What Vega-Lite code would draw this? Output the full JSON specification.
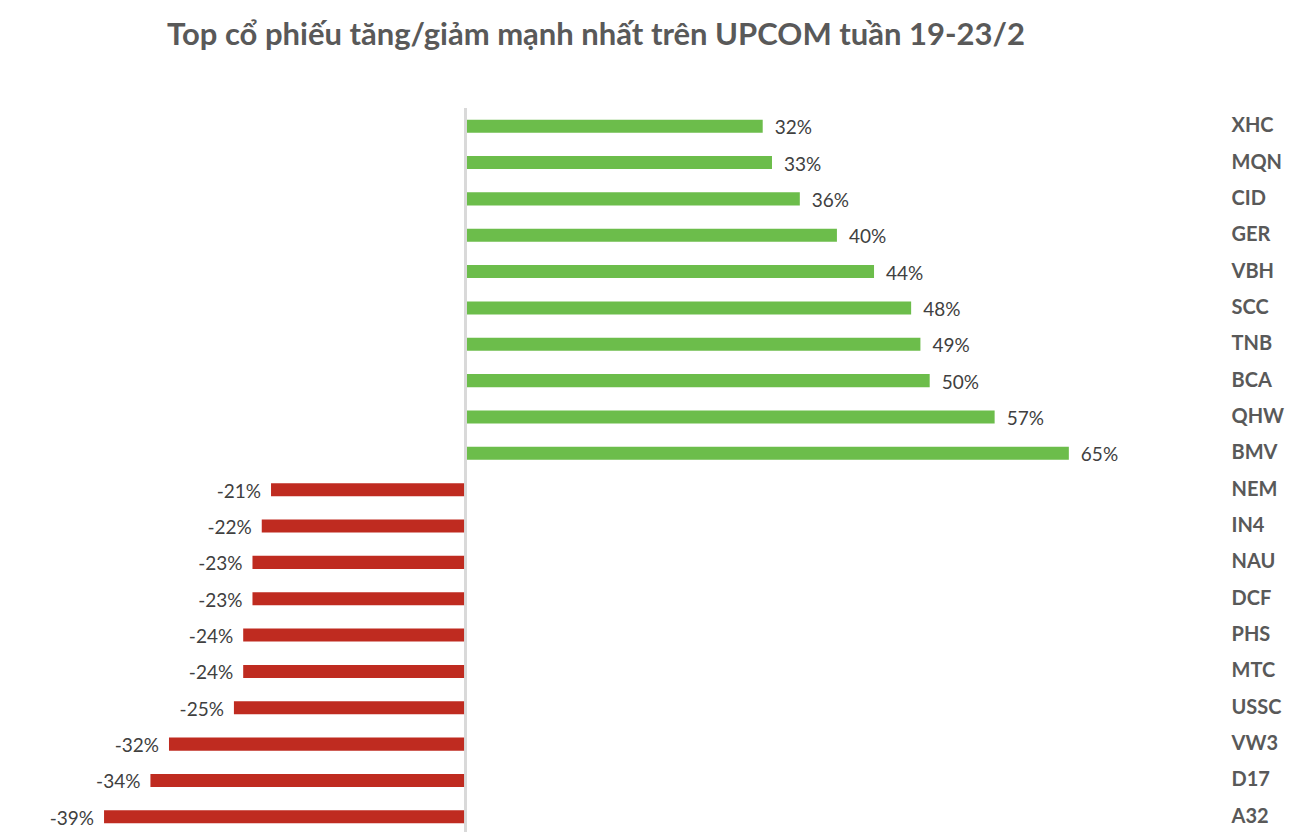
{
  "$schema": "https://vega.github.io/schema/vega-lite/v6.json",
  "autosize": {"type": "none"},
  "padding": {"left": 2, "top": 108, "right": 82, "bottom": 0},
  "width": 1206,
  "height": 727,
  "background": "white",
  "title": {
    "text": "Top cổ phiếu tăng/giảm mạnh nhất trên UPCOM tuần 19-23/2",
    "font": "Lato",
    "fontSize": 31,
    "fontWeight": "bold",
    "color": "#595959",
    "anchor": "middle",
    "dx": -9,
    "offset": 31,
    "baseline": "alphabetic"
  },
  "data": {
    "values": [
      {"ticker": "XHC", "value": 0.32},
      {"ticker": "MQN", "value": 0.33},
      {"ticker": "CID", "value": 0.36},
      {"ticker": "GER", "value": 0.40},
      {"ticker": "VBH", "value": 0.44},
      {"ticker": "SCC", "value": 0.48},
      {"ticker": "TNB", "value": 0.49},
      {"ticker": "BCA", "value": 0.50},
      {"ticker": "QHW", "value": 0.57},
      {"ticker": "BMV", "value": 0.65},
      {"ticker": "NEM", "value": -0.21},
      {"ticker": "IN4", "value": -0.22},
      {"ticker": "NAU", "value": -0.23},
      {"ticker": "DCF", "value": -0.23},
      {"ticker": "PHS", "value": -0.24},
      {"ticker": "MTC", "value": -0.24},
      {"ticker": "USSC", "value": -0.25},
      {"ticker": "VW3", "value": -0.32},
      {"ticker": "D17", "value": -0.34},
      {"ticker": "A32", "value": -0.39}
    ]
  },
  "encoding": {
    "y": {
      "field": "ticker",
      "type": "nominal",
      "sort": ["XHC", "MQN", "CID", "GER", "VBH", "SCC", "TNB", "BCA", "QHW", "BMV", "NEM", "IN4", "NAU", "DCF", "PHS", "MTC", "USSC", "VW3", "D17", "A32"],
      "scale": {"paddingInner": 0.64, "paddingOuter": 0.32},
      "axis": {
        "orient": "right",
        "title": null,
        "domain": false,
        "ticks": false,
        "labelPadding": 23,
        "labelFont": "Lato",
        "labelFontSize": 20,
        "labelFontWeight": "bold",
        "labelColor": "#595959"
      }
    }
  },
  "layer": [
    {
      "mark": {"type": "bar"},
      "encoding": {
        "x": {"field": "value", "type": "quantitative", "scale": {"domain": [-0.5, 0.8]}, "axis": null},
        "color": {
          "condition": {"test": "datum.value >= 0", "value": "#6cbd4b"},
          "value": "#bf2b20"
        }
      }
    },
    {
      "mark": {"type": "rule", "color": "#d9d9d9", "strokeWidth": 2},
      "encoding": {"x": {"datum": 0, "type": "quantitative"}, "y": null}
    },
    {
      "transform": [{"filter": "datum.value >= 0"}],
      "mark": {"type": "text", "align": "left", "dx": 12, "dy": 2, "font": "Lato", "fontSize": 19, "color": "#404040"},
      "encoding": {
        "x": {"field": "value", "type": "quantitative"},
        "text": {"field": "value", "type": "quantitative", "format": ".0%"}
      }
    },
    {
      "transform": [{"filter": "datum.value < 0"}],
      "mark": {"type": "text", "align": "right", "dx": -10, "dy": 2, "font": "Lato", "fontSize": 19, "color": "#404040"},
      "encoding": {
        "x": {"field": "value", "type": "quantitative"},
        "text": {"field": "value", "type": "quantitative", "format": ".0%"}
      }
    }
  ],
  "config": {
    "view": {"stroke": null},
    "locale": {
      "number": {
        "decimal": ".",
        "thousands": ",",
        "grouping": [3],
        "currency": ["$", ""],
        "minus": "-"
      }
    }
  }
}
